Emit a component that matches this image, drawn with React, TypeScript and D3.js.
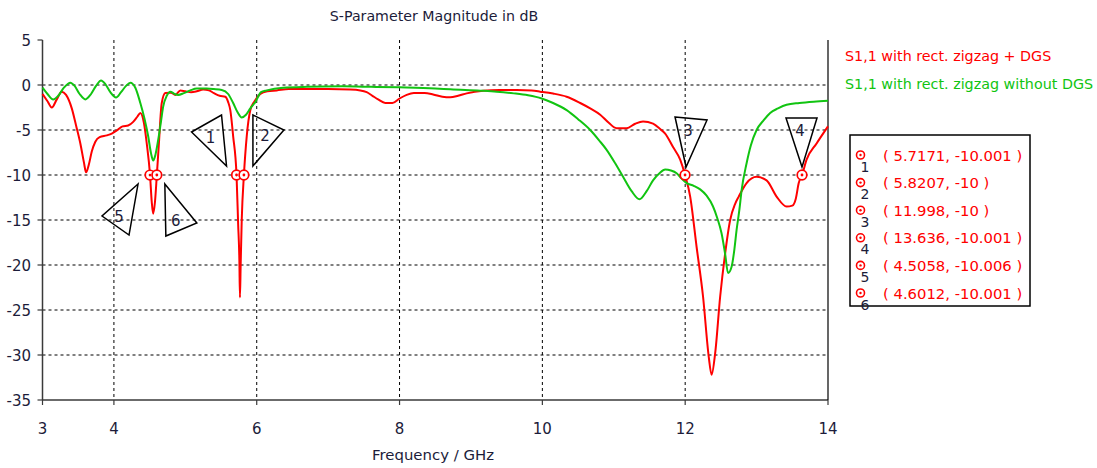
import React from "react";
import * as d3 from "d3";

// ---- Data ----
const freqDGS = [3.0, 3.07, 3.13, 3.2, 3.27, 3.33, 3.41, 3.47, 3.53, 3.58, 3.61, 3.65, 3.69, 3.74, 3.8, 3.9, 3.97, 4.05, 4.12, 4.2, 4.27, 4.33, 4.37, 4.42, 4.46, 4.5058, 4.53, 4.55, 4.575, 4.6012, 4.63, 4.67, 4.72, 4.8, 4.86, 4.93, 5.0, 5.08, 5.16, 5.25, 5.33, 5.4, 5.48, 5.56, 5.6, 5.63, 5.67, 5.7171, 5.74, 5.757, 5.765, 5.775, 5.79, 5.8207, 5.86, 5.91, 5.97, 6.05, 6.15, 6.28, 6.45, 6.7, 7.0, 7.31, 7.45, 7.54, 7.62, 7.7, 7.8, 7.9, 8.0, 8.1, 8.2, 8.35, 8.47, 8.6, 8.71, 8.82, 8.94, 9.17, 9.4, 9.64, 9.85, 9.97, 10.15, 10.34, 10.53, 10.67, 10.81, 10.93, 11.04, 11.18, 11.3, 11.41, 11.55, 11.65, 11.72, 11.83, 11.93, 11.998, 12.07, 12.16, 12.25, 12.33, 12.37, 12.42, 12.49, 12.56, 12.63, 12.7, 12.75, 12.86, 13.0, 13.14, 13.28, 13.42, 13.5, 13.55, 13.59, 13.636, 13.7, 13.84, 14.0];
const s11DGS = [-1.0, -1.8, -2.5, -1.6, -0.74, -1.1, -2.6, -4.5, -6.5, -8.6, -9.7, -8.8, -7.4, -6.3, -5.8, -5.6, -5.4, -5.0, -4.6, -4.5, -4.1, -3.5, -3.1, -4.2, -6.5, -10.0, -13.0, -14.3, -13.0, -10.0, -6.5, -2.0, -0.9, -0.85, -1.1, -0.6, -0.7, -0.8, -0.7, -0.5, -0.6, -0.9, -1.2, -1.3, -1.9, -2.8, -5.7, -10.0, -15.5, -19.5, -23.6, -20.0, -15.0, -10.0, -5.7, -2.8, -1.8, -1.0, -0.7, -0.6, -0.45, -0.45, -0.45, -0.5, -0.6, -0.8, -1.2, -1.6, -2.0, -2.0, -1.5, -1.1, -0.9, -0.9, -1.05, -1.3, -1.37, -1.2, -0.93, -0.63, -0.55, -0.55, -0.62, -0.74, -0.95, -1.3, -2.0, -2.6, -3.3, -4.2, -4.8, -4.8, -4.3, -4.05, -4.3, -4.9, -5.4, -6.9, -8.3, -10.0, -12.4, -18.0, -23.5, -30.2, -32.2, -29.8, -23.5, -18.7, -15.0, -13.2, -12.4, -10.9, -10.2, -10.6, -12.4, -13.5, -13.4, -12.6, -10.9, -10.0, -8.3, -6.5, -4.6];

const freqNoDGS = [3.0, 3.07, 3.15, 3.22, 3.3, 3.39, 3.45, 3.52, 3.6, 3.68, 3.75, 3.82, 3.88, 3.95, 4.03, 4.1, 4.17, 4.23, 4.3, 4.37, 4.43, 4.48, 4.52, 4.55, 4.58, 4.62, 4.66, 4.69, 4.74, 4.79, 4.85, 4.9, 4.98, 5.07, 5.16, 5.3, 5.4, 5.51, 5.6, 5.67, 5.73, 5.79, 5.85, 5.91, 5.98, 6.06, 6.14, 6.37, 6.7, 7.2, 7.6, 8.0, 8.5, 8.71, 9.13, 9.36, 9.6, 9.8, 9.99, 10.15, 10.34, 10.5, 10.67, 10.8, 10.9, 11.02, 11.13, 11.25, 11.36, 11.46, 11.55, 11.64, 11.72, 11.8, 11.88, 11.95, 12.02, 12.12, 12.21, 12.3, 12.39, 12.45, 12.51, 12.56, 12.6, 12.65, 12.69, 12.72, 12.76, 12.79, 12.86, 12.92, 13.0, 13.1, 13.19, 13.3, 13.42, 13.6, 13.8, 14.0];
const s11NoDGS = [-0.3, -1.0, -1.6, -1.2, -0.3, 0.26, -0.1, -1.0, -1.6, -1.0, -0.1, 0.5, 0.1, -0.8, -1.4, -0.8, -0.1, 0.26, -0.3, -2.0, -3.8, -5.7, -7.6, -8.4, -7.8, -6.1, -4.0, -2.4, -1.2, -0.74, -1.0, -1.1, -0.9, -0.6, -0.4, -0.4, -0.45, -0.55, -1.0, -2.0, -3.0, -3.6, -3.3, -2.6, -1.9, -0.8, -0.6, -0.3, -0.2, -0.15, -0.2, -0.26, -0.38, -0.48, -0.63, -0.74, -0.93, -1.15, -1.5, -2.0, -2.8, -3.8, -5.0, -6.2, -7.2, -8.7, -10.2, -11.8, -12.7, -11.8, -10.6, -9.8, -9.4, -9.5, -9.8, -10.4, -10.9, -11.2, -11.6, -12.3, -13.5, -14.8, -16.5, -18.8, -20.9, -20.2, -18.2, -16.1, -13.8, -11.7, -8.7, -6.7, -5.0, -3.9, -3.1, -2.6, -2.2, -2.0, -1.85, -1.74];

const seriesNames = ["S1,1 with rect. zigzag + DGS", "S1,1 with rect. zigzag without DGS"];
const markerIds = ["1", "2", "3", "4", "5", "6"];
const markerFreq = [5.7171, 5.8207, 11.998, 13.636, 4.5058, 4.6012];
const markerVal = [-10.001, -10, -10, -10.001, -10.006, -10.001];
const markerText = ["5.7171", "5.8207", "11.998", "13.636", "4.5058", "4.6012"];
const markerValText = ["-10.001", "-10", "-10", "-10.001", "-10.006", "-10.001"];
const xTicks = [3, 4, 6, 8, 10, 12, 14];
const xGrid = [4, 6, 8, 10, 12];
const yTicks = [5, 0, -5, -10, -15, -20, -25, -30, -35];
const yGrid = [0, -5, -10, -15, -20, -25, -30];

// ---- Layout ----
const W = 1097, H = 468;
const L = 42.5, R = 828, T = 40, B = 400;
const RED = "#ff0000";
const GREEN = "#11c411";
const INK = "#1c1c3a";
const FONT = "Tahoma, 'DejaVu Sans', sans-serif";

// triangle label shapes relative to marker point (pixels)
const triShapes: Record<string, number[][]> = {
  "1": [[-45, -43], [-15, -60], [-10, -9]],
  "2": [[9, -60], [40, -45], [9, -9]],
  "3": [[-10, -58], [22, -55], [1, -8]],
  "4": [[-16, -57], [15, -57], [0, -8]],
  "5": [[-12, 9], [-48, 41], [-21, 60]],
  "6": [[8, 9], [40, 48], [9, 61]],
};
const triText: Record<string, number[]> = {
  "1": [-26, -38], "2": [21, -40], "3": [3, -45], "4": [-2, -45], "5": [-31, 41], "6": [19, 45],
};

export default function App() {
  const x = d3.scaleLinear().domain([3, 14]).range([L, R]);
  const y = d3.scaleLinear().domain([5, -35]).range([T, B]);
  const line = d3.line<[number, number]>().x(d => x(d[0])).y(d => y(d[1])).curve(d3.curveMonotoneX);
  const redPts = freqDGS.map((f, i) => [f, s11DGS[i]] as [number, number]);
  const greenPts = freqNoDGS.map((f, i) => [f, s11NoDGS[i]] as [number, number]);

  return (
    <div style={{ position: "absolute", left: 0, top: 0 }}>
      <svg width={W} height={H} style={{ display: "block", background: "#fff" }} fontFamily={FONT}>
        <text x={434} y={21} textAnchor="middle" fontSize={14.2} fill={INK}>S-Parameter Magnitude in dB</text>
        {/* grid */}
        {xGrid.map(v => (
          <line key={"gx" + v} x1={x(v)} x2={x(v)} y1={T} y2={B} stroke="#000" strokeWidth={1} strokeDasharray="3,3" />
        ))}
        {yGrid.map(v => (
          <line key={"gy" + v} x1={L} x2={R} y1={y(v)} y2={y(v)} stroke="#000" strokeWidth={1} strokeDasharray="3,3" />
        ))}
        {/* axes */}
        <line x1={L} x2={L} y1={T} y2={B} stroke="#3a3a3a" strokeWidth={1.5} />
        <line x1={L} x2={R} y1={B} y2={B} stroke="#3a3a3a" strokeWidth={1.5} />
        <line x1={R} x2={R} y1={T} y2={B} stroke="#000" strokeWidth={1.2} />
        {xTicks.map(v => (
          <g key={"xt" + v}>
            <line x1={x(v)} x2={x(v)} y1={B} y2={B + 5} stroke="#3a3a3a" strokeWidth={1.2} />
            <text x={x(v)} y={434} textAnchor="middle" fontSize={15} fill={INK}>{v}</text>
          </g>
        ))}
        {yTicks.map(v => (
          <g key={"yt" + v}>
            <line x1={L - 5} x2={L} y1={y(v)} y2={y(v)} stroke="#3a3a3a" strokeWidth={1.2} />
            <text x={31} y={y(v) + 5.5} textAnchor="end" fontSize={15} fill={INK}>{v}</text>
          </g>
        ))}
        <text x={433} y={460} textAnchor="middle" fontSize={14.9} fill={INK}>Frequency / GHz</text>
        {/* curves */}
        <path d={line(redPts) || ""} fill="none" stroke={RED} strokeWidth={2} />
        <path d={line(greenPts) || ""} fill="none" stroke={GREEN} strokeWidth={2} />
        {/* markers */}
        {markerIds.map((id, i) => {
          const mx = x(markerFreq[i]);
          const my = y(markerVal[i]);
          const pts = triShapes[id].map(p => `${mx + p[0]},${my + p[1]}`).join(" ");
          const tp = triText[id];
          return (
            <g key={"m" + id}>
              <polygon points={pts} fill="none" stroke="#000" strokeWidth={1.5} />
              <text x={mx + tp[0]} y={my + tp[1] + 5.5} textAnchor="middle" fontSize={15} fill={INK}>{id}</text>
              <circle cx={mx} cy={my} r={4.8} fill="#fff" stroke={RED} strokeWidth={1.7} />
              <circle cx={mx} cy={my} r={1.4} fill={RED} />
            </g>
          );
        })}
        {/* legend */}
        <text x={845} y={61} fontSize={14.3} fill={RED}>{seriesNames[0]}</text>
        <text x={845} y={89} fontSize={14.3} fill={GREEN}>{seriesNames[1]}</text>
        {/* marker table */}
        <rect x={850} y={135} width={180} height={171} fill="#fff" stroke="#000" strokeWidth={1.5} />
        {markerIds.map((id, i) => {
          const ry = 155 + i * 27.6;
          return (
            <g key={"row" + id}>
              <circle cx={860.5} cy={ry} r={4} fill="#fff" stroke={RED} strokeWidth={1.6} />
              <circle cx={860.5} cy={ry} r={1.2} fill={RED} />
              <text x={865} y={ry + 16.5} textAnchor="middle" fontSize={14} fill={INK}>{id}</text>
              <text x={883} y={ry + 5.5} fontSize={14.8} fill={RED}>{`( ${markerText[i]}, ${markerValText[i]} )`}</text>
            </g>
          );
        })}
      </svg>
    </div>
  );
}
